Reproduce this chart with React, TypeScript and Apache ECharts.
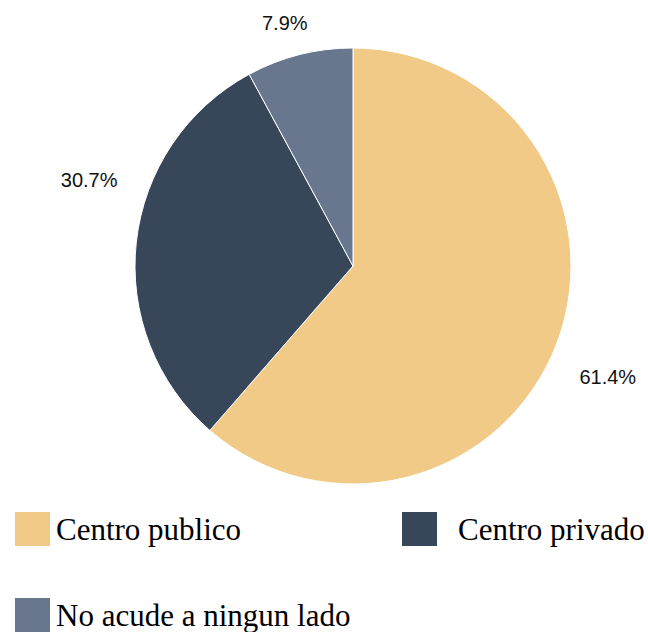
import React, { useEffect, useRef } from "react";
import * as echarts from "echarts";

const categories = ["Centro publico", "Centro privado", "No acude a ningun lado"];
const values = [61.4, 30.7, 7.9];
const colors = ["#F2CA88", "#374659", "#68778D"];
// label nudges (pixels) to match reference placement
const labelDx = [-4, 9, 15];
const labelDy = [25, -59, -5];

export default function App() {
  const ref = useRef<HTMLDivElement>(null);
  useEffect(() => {
    if (!ref.current) return;
    const chart = echarts.init(ref.current, undefined, { renderer: "svg" });
    const legendText = {
      fontFamily: "Liberation Serif",
      fontSize: 31,
      color: "#000",
    };
    const legendBase = {
      orient: "horizontal" as const,
      icon: "rect",
      itemWidth: 37,
      itemHeight: 36,
      padding: 0,
      selectedMode: false,
    };
    chart.setOption({
      animation: false,
      backgroundColor: "#fff",
      legend: [
        { ...legendBase, data: [categories[0]], left: 13, top: 510, textStyle: { ...legendText } },
        { ...legendBase, data: [categories[1]], left: 400, top: 510, textStyle: { ...legendText, padding: [0, 0, 0, 15] } },
        { ...legendBase, data: [categories[2]], left: 13, top: 596, textStyle: { ...legendText } },
      ],
      series: [
        {
          type: "pie",
          center: [353, 266],
          radius: 218,
          startAngle: 90,
          clockwise: true,
          avoidLabelOverlap: false,
          itemStyle: { borderColor: "#ffffff", borderWidth: 1 },
          label: {
            show: true,
            position: "outside",
            formatter: (p: any) => p.value.toFixed(1) + "%",
            fontFamily: "Liberation Sans",
            fontSize: 20,
            color: "#111",
            distanceToLabelLine: 0,
          },
          labelLine: { show: false, length: 28, length2: 0 },
          labelLayout: (p: any) => ({ dx: labelDx[p.dataIndex], dy: labelDy[p.dataIndex] }),
          emphasis: { disabled: true },
          data: categories.map((c, i) => ({
            name: c,
            value: values[i],
            itemStyle: { color: colors[i] },
          })),
        },
      ],
    });
    return () => chart.dispose();
  }, []);
  return (
    <div
      ref={ref}
      style={{ position: "fixed", left: 0, top: 0, width: 648, height: 632 }}
    />
  );
}
